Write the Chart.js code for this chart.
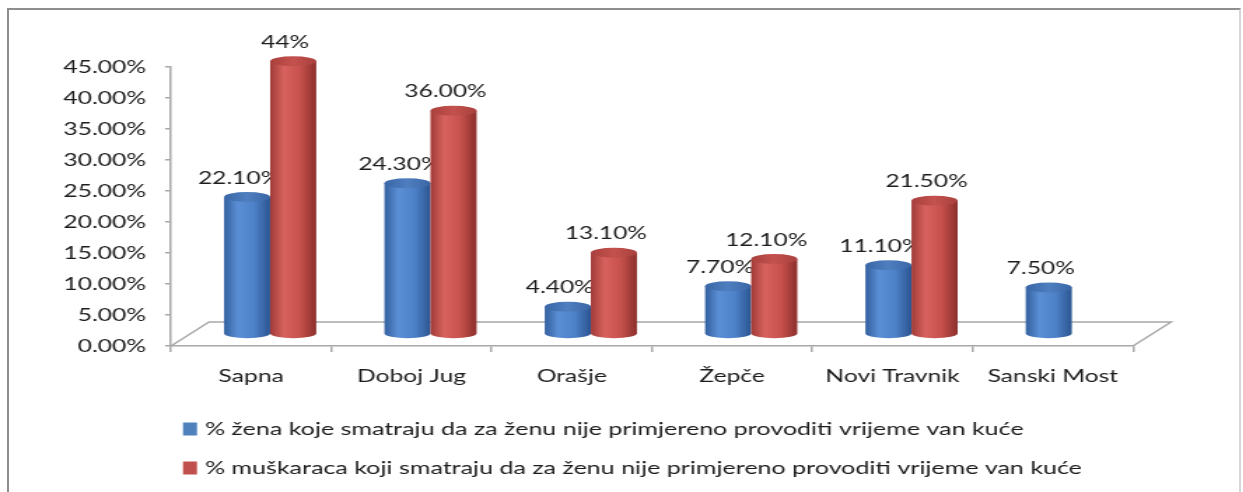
<!DOCTYPE html>
<html>
<head>
<meta charset="utf-8">
<script src="https://cdn.jsdelivr.net/npm/chart.js@4.4.1/dist/chart.umd.min.js"></script>
<style>
  html, body { margin: 0; padding: 0; background: #fff; width: 1243px; height: 492px; overflow: hidden; }
  #frame { position: absolute; left: 7px; top: 8px; width: 1234px; height: 520px; box-sizing: border-box;
           border: 2px solid #8e8e8e; border-right-color: #d6d6d6; }
  #wrap { position: absolute; left: 0; top: 0; width: 888px; height: 492px; transform: scaleX(1.4); transform-origin: 0 0; }
</style>
</head>
<body>
<div id="frame"></div>
<div id="wrap"><canvas id="chart" width="888" height="492" style="width:888px;height:492px"></canvas></div>
<script>
'use strict'

// data
const categories = ['Sapna', 'Doboj Jug', 'Orašje', 'Žepče', 'Novi Travnik', 'Sanski Most']
const women = [22.1, 24.3, 4.4, 7.7, 11.1, 7.5]
const men = [44, 36, 13.1, 12.1, 21.5, null]
const womenLabels = ['22.10%', '24.30%', '4.40%', '7.70%', '11.10%', '7.50%']
const menLabels = ['44%', '36.00%', '13.10%', '12.10%', '21.50%', '']
const seriesNames = [
    '% žena koje smatraju da za ženu nije primjereno provoditi vrijeme van kuće',
    '% muškaraca koji smatraju da za ženu nije primjereno provoditi vrijeme van kuće'
]
const yMin = 0
const yMax = 45
const yStep = 5

// the whole canvas is stretched sideways like the original
const STRETCH = 1.4
const DX = 38 / STRETCH
const DY = 24
const FONT = 'Lato'
const TEXT = '#1c1c1c'

const palettes = [
    { flat: '#4f81bd', body: ['#33609f', '#5b8fd5', '#4d81c8', '#2c5591'], top: ['#3a66a6', '#4f7fc0'] },
    { flat: '#c0504d', body: ['#a13b38', '#d7625e', '#c6514d', '#8b2f2c'], top: ['#a9403d', '#c4524e'] }
]

function drawCylinder (ctx, x, yTop, yBot, half, pal) {
    const ry = 5
    const g = ctx.createLinearGradient(x - half, 0, x + half, 0)
    g.addColorStop(0, pal.body[0])
    g.addColorStop(0.3, pal.body[1])
    g.addColorStop(0.65, pal.body[2])
    g.addColorStop(1, pal.body[3])
    ctx.beginPath()
    ctx.moveTo(x - half, yTop)
    ctx.lineTo(x - half, yBot)
    ctx.ellipse(x, yBot, half, ry, 0, Math.PI, 0, true)
    ctx.lineTo(x + half, yTop)
    ctx.closePath()
    ctx.fillStyle = g
    ctx.fill()

    const t = ctx.createLinearGradient(x - half, 0, x + half, 0)
    t.addColorStop(0, pal.top[0])
    t.addColorStop(0.5, pal.top[1])
    t.addColorStop(1, pal.top[0])
    ctx.beginPath()
    ctx.ellipse(x, yTop, half, ry, 0, 0, Math.PI * 2)
    ctx.fillStyle = t
    ctx.fill()
}

const cylinders = {
    id: 'cylinders',
    beforeDatasetsDraw (chart) {
        const ctx = chart.ctx
        const a = chart.chartArea
        ctx.save()

        // floor
        ctx.strokeStyle = '#a8a8a8'
        ctx.lineWidth = 1.5
        ctx.beginPath()
        ctx.moveTo(a.left, a.bottom)
        ctx.lineTo(a.left + DX, a.bottom - DY)
        ctx.lineTo(a.right + DX, a.bottom - DY)
        ctx.lineTo(a.right, a.bottom)
        ctx.stroke()

        const labelSets = [womenLabels, menLabels]
        chart.data.datasets.forEach((ds, i) => {
            const meta = chart.getDatasetMeta(i)
            meta.data.forEach((bar, j) => {
                if (ds.data[j] === null) return
                const x = bar.x + DX / 2
                const yTop = bar.y - DY / 2
                const yBot = bar.base - DY / 2
                drawCylinder(ctx, x, yTop, yBot, bar.width / 2, palettes[i])

                ctx.fillStyle = TEXT
                ctx.font = '17.5px ' + FONT
                ctx.textAlign = 'center'
                ctx.textBaseline = 'middle'
                ctx.fillText(labelSets[i][j], x - 8 / STRETCH, yTop - 19)
            })
        })
        ctx.restore()
        return false
    },
    afterDraw (chart) {
        const ctx = chart.ctx
        const rows = [429, 468]
        ctx.save()
        chart.data.datasets.forEach((ds, i) => {
            ctx.fillStyle = ds.backgroundColor
            ctx.fillRect(183 / STRETCH, rows[i] - 6.5, 14 / STRETCH, 13)
            ctx.fillStyle = TEXT
            ctx.font = '17.9px ' + FONT
            ctx.textAlign = 'left'
            ctx.textBaseline = 'middle'
            ctx.fillText(ds.label, 205 / STRETCH, rows[i])
        })
        ctx.restore()
    }
}

new Chart(document.getElementById('chart'), {
    type: 'bar',
    data: {
        labels: categories,
        datasets: [
            { label: seriesNames[0], data: women, backgroundColor: palettes[0].flat },
            { label: seriesNames[1], data: men, backgroundColor: palettes[1].flat }
        ]
    },
    options: {
        responsive: false,
        animation: false,
        devicePixelRatio: 1,
        layout: { padding: { top: 67, left: 0, right: 888 - 1133 / STRETCH, bottom: 0 } },
        datasets: { bar: { categoryPercentage: 0.575, barPercentage: 1 } },
        plugins: { legend: { display: false }, tooltip: { enabled: false } },
        scales: {
            x: {
                afterFit: (s) => { s.height = 146 },
                grid: { drawOnChartArea: false, tickLength: 6, color: '#a8a8a8', lineWidth: 1.5 },
                border: { color: '#a8a8a8', width: 1.5 },
                ticks: { color: TEXT, padding: 14, font: { family: FONT, size: 17.6 } }
            },
            y: {
                min: yMin,
                max: yMax,
                afterFit: (s) => { s.width = 171 / STRETCH },
                grid: { drawOnChartArea: false, tickLength: 6 / STRETCH, color: '#a8a8a8', lineWidth: 1.5 },
                border: { color: '#a8a8a8', width: 1.5 },
                ticks: {
                    stepSize: yStep,
                    color: TEXT,
                    padding: 13.5,
                    font: { family: FONT, size: 17.6 },
                    callback: (v) => v.toFixed(2) + '%'
                }
            }
        }
    },
    plugins: [cylinders]
})
</script>
</body>
</html>
